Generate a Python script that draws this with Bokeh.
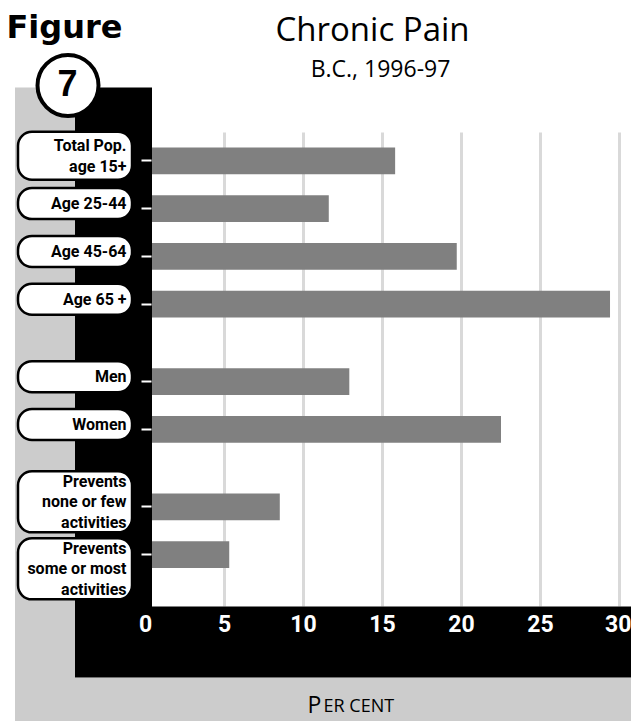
from bokeh.plotting import figure
from bokeh.models import Range1d, LinearAxis, FixedTicker
from bokeh.core.properties import value
from bokeh.embed import file_html
from bokeh.resources import INLINE

# ---------------- data ----------------
categories = [
    "Total Pop.\nage 15+",
    "Age 25-44",
    "Age 45-64",
    "Age 65 +",
    "Men",
    "Women",
    "Prevents\nnone or few\nactivities",
    "Prevents\nsome or most\nactivities",
]
groups = [0, 0, 0, 0, 1, 1, 2, 2]
percent = [15.8, 11.6, 19.7, 29.4, 12.9, 22.5, 8.5, 5.3]
x_ticks = [0, 5, 10, 15, 20, 25, 30]
title_text = "Chronic Pain"
subtitle_text = "B.C., 1996-97"
figure_word = "Figure"
figure_number = "7"
x_label_first = "P"
x_label_rest = "ER CENT"

# ---------------- layout helpers (canvas pixels -> data) ----------------
W, H = 631, 721
X0_PAGE, XSCALE = 145.0, 15.8
Y0_PAGE, SLOT = 160.3, 47.8
GROUP_GAP = 0.62


def px(xp):
    return (xp - X0_PAGE) / XSCALE


def py(yp):
    return (yp - Y0_PAGE) / SLOT


pos = [i + g * GROUP_GAP for i, g in enumerate(groups)]

p = figure(
    width=W, height=H,
    x_range=Range1d(px(0), px(W)),
    y_range=Range1d(py(H), py(0)),
    x_axis_type=None, y_axis_type=None,
    output_backend="svg", toolbar_location=None,
    min_border=0, outline_line_color=None,
    background_fill_color="white", border_fill_color="white",
)

# grid lines in the white plot area
p.segment(x0=x_ticks, x1=x_ticks, y0=py(132), y1=py(606),
          line_color="#d9d9d9", line_width=3)

# bars
p.hbar(y=pos, left=0, right=percent, height=26.7 / SLOT,
       fill_color="#808080", line_color=None)

# grey and black frame panels
p.quad(left=[px(14.5), px(74.5)], right=[px(74.5), px(W)],
       top=[py(87), py(677)], bottom=[py(H), py(H)],
       fill_color="#cccccc", line_color=None)
p.quad(left=[px(74.5), px(151.5)], right=[px(151.5), px(W)],
       top=[py(87), py(606)], bottom=[py(677), py(677)],
       fill_color="black", line_color=None)

# figure badge
p.text(x=[px(6)], y=[py(26)], text=[figure_word], text_align="left",
       text_baseline="middle", text_font=value("DejaVu Sans"),
       text_font_style="bold", text_font_size="32px", text_color="black")
p.scatter(x=[px(67.5)], y=[py(85)], size=61, marker="circle",
          fill_color="white", line_color="black", line_width=4)
p.text(x=[px(67)], y=[py(82)], text=[figure_number], text_align="center",
       text_baseline="middle", text_font=value("Liberation Sans"),
       text_font_style="bold", text_font_size="36px", text_color="black")

# titles
p.text(x=[px(372)], y=[py(28)], text=[title_text], text_align="center",
       text_baseline="middle", text_font=value("Open Sans"),
       text_font_size="33px", text_color="black")
p.text(x=[px(380)], y=[py(67)], text=[subtitle_text], text_align="center",
       text_baseline="middle", text_font=value("Open Sans"),
       text_font_size="23px", text_color="black")

# category pills (rounded boxes)
pill_heights = {1: 31, 2: 48, 3: 61}
tops, bots, mids = [], [], []
prev_bot = -1e9
for ps, cat in zip(pos, categories):
    n = cat.count("\n") + 1
    h = pill_heights[n]
    c = Y0_PAGE + ps * SLOT - 5
    top = max(c - h / 2, prev_bot + 6)
    bot = top + h
    prev_bot = bot
    tops.append(py(top))
    bots.append(py(bot))
    mids.append(py((top + bot) / 2))

p.quad(left=px(17.5), right=px(131.5), top=tops, bottom=bots,
       fill_color="white", line_color="black", line_width=2.5,
       border_radius=14)
p.text(x=[px(126)] * len(categories), y=mids, text=categories,
       text_align="right", text_baseline="middle",
       text_font=value("Roboto"), text_font_style="bold",
       text_font_size="16px", text_line_height=1.08, text_color="black")

# axis title (small caps style)
p.text(x=[px(307)], y=[py(703)], text=[x_label_first], text_align="left",
       text_baseline="middle", text_font=value("Open Sans"),
       text_font_size="23px", text_color="black")
p.text(x=[px(323)], y=[py(704.5)], text=[x_label_rest], text_align="left",
       text_baseline="middle", text_font=value("Open Sans"),
       text_font_size="18px", text_color="black")

# axes
xaxis = LinearAxis(ticker=FixedTicker(ticks=x_ticks), fixed_location=py(606))
xaxis.axis_line_color = None
xaxis.major_tick_line_color = None
xaxis.minor_tick_line_color = None
xaxis.major_tick_in = 0
xaxis.major_tick_out = 0
xaxis.major_label_standoff = 8
xaxis.major_label_text_color = "white"
xaxis.major_label_text_font = "Roboto"
xaxis.major_label_text_font_style = "bold"
xaxis.major_label_text_font_size = "23px"
p.add_layout(xaxis, "below")

yaxis = LinearAxis(ticker=FixedTicker(ticks=pos), fixed_location=px(150.5))
yaxis.axis_line_color = None
yaxis.minor_tick_line_color = None
yaxis.major_tick_in = 0
yaxis.major_tick_out = 10
yaxis.major_tick_line_color = "white"
yaxis.major_tick_line_width = 2
yaxis.major_label_text_color = None
p.add_layout(yaxis, "left")

open("out.html", "w").write(file_html(p, INLINE))
